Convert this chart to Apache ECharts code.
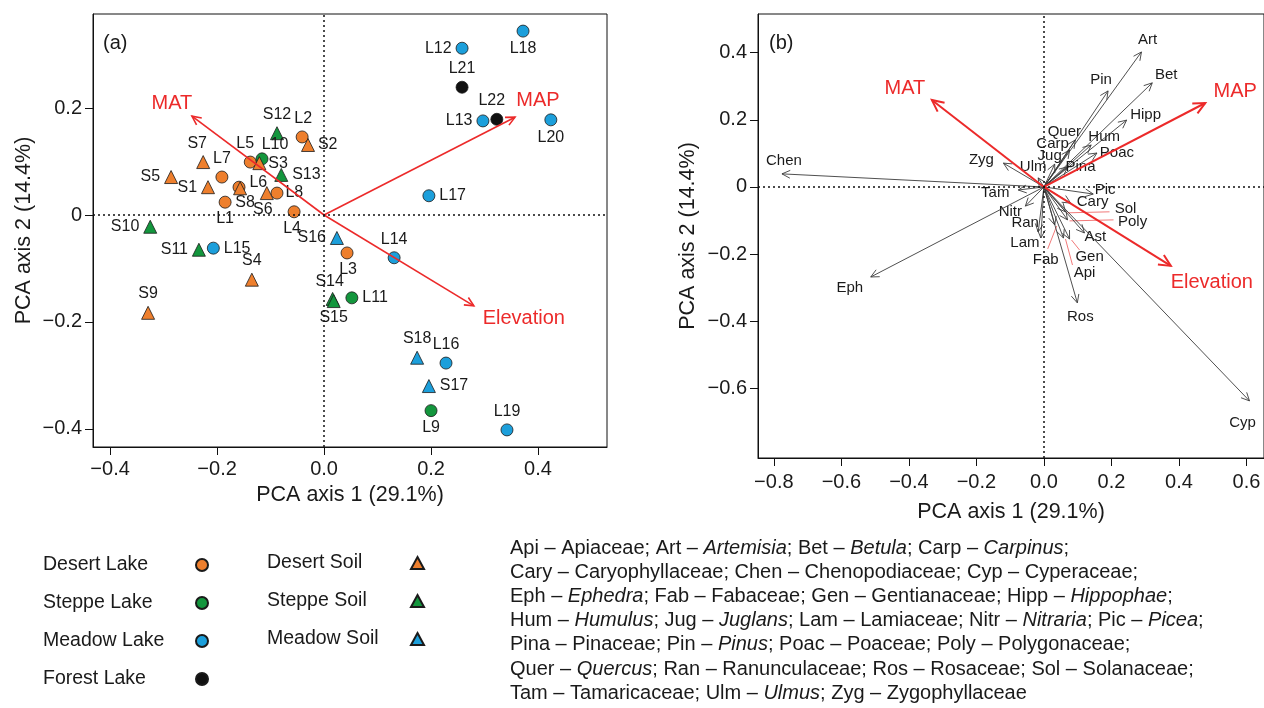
<!DOCTYPE html>
<html><head><meta charset="utf-8">
<script src="https://cdn.jsdelivr.net/npm/echarts@6/dist/echarts.min.js"></script>
<style>html,body{margin:0;padding:0;background:#fff}#c{width:1264px;height:708px}</style>
</head><body><div id="c"></div>
<script>
const FONT = '"Liberation Sans", Arial, Helvetica, sans-serif';

// ---------- Panel (a): sample scores [name, PC1, PC2] ----------
const desertLake = [['L1',-0.185,0.024],['L2',-0.041,0.146],['L3',0.043,-0.071],['L4',-0.056,0.006],
  ['L5',-0.138,0.099],['L6',-0.159,0.052],['L7',-0.191,0.071],['L8',-0.088,0.041]];
const steppeLake = [['L9',0.200,-0.366],['L10',-0.116,0.105],['L11',0.052,-0.155]];
const meadowLake = [['L12',0.258,0.312],['L13',0.297,0.176],['L14',0.131,-0.080],['L15',-0.207,-0.062],
  ['L16',0.228,-0.277],['L17',0.196,0.036],['L18',0.372,0.344],['L19',0.342,-0.402],['L20',0.424,0.178]];
const forestLake = [['L21',0.258,0.239],['L22',0.323,0.179]];
const desertSoil = [['S1',-0.217,0.052],['S2',-0.030,0.131],['S3',-0.121,0.097],['S4',-0.135,-0.121],
  ['S5',-0.286,0.071],['S6',-0.107,0.041],['S7',-0.226,0.099],['S8',-0.157,0.050],['S9',-0.329,-0.183]];
const steppeSoil = [['S10',-0.325,-0.022],['S11',-0.234,-0.065],['S12',-0.088,0.153],['S13',-0.080,0.075],
  ['S14',0.016,-0.157],['S15',0.018,-0.161]];
const meadowSoil = [['S16',0.024,-0.043],['S17',0.196,-0.320],['S18',0.174,-0.267]];

// environmental vectors
const envNames = ['MAT','MAP','Elevation'];
const envA_PC1 = [-0.247, 0.357, 0.280];
const envA_PC2 = [0.185, 0.183, -0.170];
const envB_PC1 = [-0.332, 0.478, 0.376];
const envB_PC2 = [0.259, 0.250, -0.235];

// ---------- Panel (b): taxa loadings ----------
const taxaNames = ['Art','Bet','Pin','Hipp','Hum','Quer','Carp','Jug','Poac','Pina','Ulm','Zyg','Chen','Tam','Nitr',
  'Ran','Lam','Fab','Pic','Cary','Sol','Poly','Ast','Gen','Api','Ros','Eph','Cyp'];
const taxaPC1 = [0.289,0.321,0.190,0.245,0.140,0.093,0.076,0.032,0.157,0.070,-0.017,-0.120,-0.776,-0.076,-0.055,
  -0.017,-0.009,0.032,0.146,0.079,0.064,0.070,0.120,0.076,0.058,0.099,-0.513,0.609];
const taxaPC2 = [0.402,0.310,0.286,0.199,0.125,0.140,0.110,0.068,0.101,0.060,0.027,0.071,0.039,-0.009,-0.057,
  -0.134,-0.152,-0.113,-0.021,-0.048,-0.074,-0.098,-0.137,-0.155,-0.152,-0.345,-0.268,-0.637];

// ---------- ticks ----------
const xTicksA = [-0.4,-0.2,0,0.2,0.4];
const xLabelsA = ['\u22120.4','\u22120.2','0.0','0.2','0.4'];
const yTicksA = [-0.4,-0.2,0,0.2];
const yLabelsA = ['\u22120.4','\u22120.2','0','0.2'];
const xTicksB = [-0.8,-0.6,-0.4,-0.2,0,0.2,0.4,0.6];
const xLabelsB = ['\u22120.8','\u22120.6','\u22120.4','\u22120.2','0.0','0.2','0.4','0.6'];
const yTicksB = [-0.6,-0.4,-0.2,0,0.2,0.4];
const yLabelsB = ['\u22120.6','\u22120.4','\u22120.2','0','0.2','0.4'];

// ---------- layout / style (not data) ----------
const COLORS = {desert:'#EE7F2D', steppe:'#13963D', meadow:'#1C9FDB', forest:'#111111'};
const RED = '#EC2A2A';
// label placement for sample points: [position, dx, dy]
const PT_LABEL = {
  L1:['bottom',0,-2],L2:['top',1,0],L3:['bottom',1,-2],L4:['bottom',-2,-2],L5:['top',-5,0],L6:['right',0,-5],
  L7:['top',0,0],L8:['right',-2,0],S1:['left',0,0],S2:['right',-1,0],S3:['right',-2,0],S4:['top',0,0],
  S5:['left',0,0],S6:['bottom',-4,-2],S7:['top',-6,0],S8:['bottom',5,-5],S9:['top',0,0],
  L9:['bottom',0,-1],L10:['top',13,4],L11:['right',0,0],S10:['left',0,0],S11:['left',0,0],S12:['top',0,0],
  S13:['right',0,0],S14:['top',-3,2],S15:['bottom',0,-2],L12:['left',0,0],L13:['left',0,0],L14:['top',0,0],
  L15:['right',0,0],L16:['top',0,0],L17:['right',0,0],L18:['bottom',0,-1],L19:['top',0,0],L20:['bottom',0,-1],
  L21:['top',0,0],L22:['top',-5,0],S16:['left',0,0],S17:['right',0,0],S18:['top',0,0]
};
const ENV_OFF_A = {MAT:[-20,-13], MAP:[23,-17], Elevation:[50,13]};
const ENV_OFF_B = {MAT:[-27,-11], MAP:[30,-12], Elevation:[41,17]};
const TAXA_OFF = {Art:[6,-12],Bet:[14,-8],Pin:[-7,-11],Hipp:[19,-5],Hum:[13,-8],Quer:[-11,-8],Carp:[-17,-6],
  Jug:[-5,-8],Poac:[20,0],Pina:[13,0],Ulm:[-5,-11],Zyg:[-22,-3],Chen:[2,-13],Tam:[-23,3],Nitr:[-15,6],
  Ran:[-13,-9],Lam:[-16,5],Fab:[-9,35],Pic:[12,-4],Cary:[22,-1],Sol:[60,-3],Poly:[65,2],Ast:[11,4],
  Gen:[20,18],Api:[21,35],Ros:[3,14],Eph:[-21,11],Cyp:[-7,22]};
const LEADER = {Sol:[44,0],Poly:[46,0],Gen:[10,11],Api:[9,27],Fab:[-7,24]};

function pointSeries(name, arr, color, symbol) {
  return {
    type:'scatter', name, xAxisIndex:0, yAxisIndex:0, symbol, z:3,
    symbolSize: symbol === 'triangle' ? 13 : 12,
    itemStyle:{color, borderColor:'#1a1a1a', borderWidth:0.8, opacity:1},
    data: arr.map(d => {
      const lp = PT_LABEL[d[0]] || ['right',0,0];
      return {name:d[0], value:[d[1], d[2]],
        label:{show:true, position:lp[0], distance:4, offset:[lp[1], lp[2]],
          formatter:'{b}', color:'#1a1a1a', fontSize:16, fontFamily:FONT}};
    })
  };
}

function arrowSeries(gi, names, xs, ys, st) {
  return {
    type:'custom', xAxisIndex:gi, yAxisIndex:gi, z:st.z || 2, silent:true,
    data: xs.map((x,i) => [x, ys[i]]),
    encode:{x:0, y:1},
    renderItem: function(params, api) {
      const o = api.coord([0,0]);
      const p = api.coord([api.value(0), api.value(1)]);
      const nm = names[params.dataIndex];
      const ang = Math.atan2(p[1]-o[1], p[0]-o[0]);
      const L = st.head, a = Math.PI/7;
      const h1 = [p[0]-L*Math.cos(ang-a), p[1]-L*Math.sin(ang-a)];
      const h2 = [p[0]-L*Math.cos(ang+a), p[1]-L*Math.sin(ang+a)];
      const off = st.offsets[nm] || [0,0];
      const ch = [
        {type:'line', shape:{x1:o[0],y1:o[1],x2:p[0],y2:p[1]}, style:{stroke:st.color, lineWidth:st.width}},
        {type:'polyline', shape:{points:[h1,p,h2]}, style:{stroke:st.color, lineWidth:st.width, fill:null}},
        {type:'text', x:p[0]+off[0], y:p[1]+off[1],
          style:{text:nm, fill:st.textColor, fontSize:st.fontSize, fontFamily:FONT, align:'center', verticalAlign:'middle'}}
      ];
      if (st.leader && st.leader[nm]) {
        const le = st.leader[nm];
        ch.push({type:'line', shape:{x1:p[0]+2,y1:p[1]+1,x2:p[0]+le[0],y2:p[1]+le[1]}, style:{stroke:'#F27A7A', lineWidth:1}});
      }
      return {type:'group', children:ch};
    },
    markLine: st.zeroLines ? {
      silent:true, symbol:'none', label:{show:false}, animation:false,
      lineStyle:{color:'#111', type:[2,3], width:1.5},
      data:[{xAxis:0},{yAxis:0}]
    } : undefined
  };
}

function fmt(ticks, labels) {
  return v => { const i = ticks.findIndex(t => Math.abs(t - v) < 1e-9); return i >= 0 ? labels[i] : ''; };
}
function axisCommon(ticks, labels, margin) {
  return {
    type:'value', splitLine:{show:false},
    axisLine:{show:true, onZero:false, lineStyle:{color:'#111', width:1}},
    axisTick:{show:true, inside:false, length:8, customValues:ticks, lineStyle:{color:'#111', width:1}},
    axisLabel:{customValues:ticks, formatter:fmt(ticks, labels), color:'#1a1a1a', fontSize:20, fontFamily:FONT, margin},
    nameTextStyle:{color:'#1a1a1a', fontSize:21.5, fontFamily:FONT},
    nameLocation:'middle'
  };
}

const legendRich = w => ({a:{width:w, align:'left', fontSize:19.5, fontFamily:FONT, color:'#1a1a1a'}});

const option = {
  animation:false,
  backgroundColor:'#ffffff',
  grid:[
    {left:93, top:14, width:514, height:433, show:true, borderColor:'#111', borderWidth:1, backgroundColor:'transparent'},
    {left:758, top:14, width:514, height:444, show:true, borderColor:'#111', borderWidth:1, backgroundColor:'transparent'}
  ],
  xAxis:[
    Object.assign(axisCommon(xTicksA, xLabelsA, 12), {gridIndex:0, min:-0.432, max:0.529, name:'PCA axis 1 (29.1%)', nameGap:35}),
    Object.assign(axisCommon(xTicksB, xLabelsB, 14), {gridIndex:1, min:-0.847, max:0.652, name:'PCA axis 1 (29.1%)', nameGap:43}),
  ],
  yAxis:[
    Object.assign(axisCommon(yTicksA, yLabelsA, 11), {gridIndex:0, min:-0.434, max:0.376, name:'PCA axis 2 (14.4%)', nameGap:58}),
    Object.assign(axisCommon(yTicksB, yLabelsB, 11), {gridIndex:1, min:-0.807, max:0.515, name:'PCA axis 2 (14.4%)', nameGap:59})
  ],
  legend:[
    {data:['Desert Lake','Steppe Lake','Meadow Lake','Forest Lake'], orient:'vertical', left:38, top:550,
      align:'right', itemGap:18, itemWidth:12, itemHeight:12, selectedMode:false, icon:'circle',
      formatter:'{a|{name}}', textStyle:{rich:legendRich(148)}},
    {data:['Desert Soil','Steppe Soil','Meadow Soil'], orient:'vertical', left:262, top:548,
      align:'right', itemGap:18, itemWidth:13, itemHeight:12, selectedMode:false, icon:'triangle',
      formatter:'{a|{name}}', textStyle:{rich:legendRich(139)}}
  ],
  graphic:[
    {type:'text', left:103, top:33, style:{text:'(a)', fontSize:20, fontFamily:FONT, fill:'#1a1a1a'}},
    {type:'text', left:769, top:33, style:{text:'(b)', fontSize:20, fontFamily:FONT, fill:'#1a1a1a'}},
    {type:'text', left:510, top:536, style:{
      text:[
        'Api \u2013 Apiaceae; Art \u2013 {i|Artemisia}; Bet \u2013 {i|Betula}; Carp \u2013 {i|Carpinus};',
        'Cary \u2013 Caryophyllaceae; Chen \u2013 Chenopodiaceae; Cyp \u2013 Cyperaceae;',
        'Eph \u2013 {i|Ephedra}; Fab \u2013 Fabaceae; Gen \u2013 Gentianaceae; Hipp \u2013 {i|Hippophae};',
        'Hum \u2013 {i|Humulus}; Jug \u2013 {i|Juglans}; Lam \u2013 Lamiaceae; Nitr \u2013 {i|Nitraria}; Pic \u2013 {i|Picea};',
        'Pina \u2013 Pinaceae; Pin \u2013 {i|Pinus}; Poac \u2013 Poaceae; Poly \u2013 Polygonaceae;',
        'Quer \u2013 {i|Quercus}; Ran \u2013 Ranunculaceae; Ros \u2013 Rosaceae; Sol \u2013 Solanaceae;',
        'Tam \u2013 Tamaricaceae; Ulm \u2013 {i|Ulmus}; Zyg \u2013 Zygophyllaceae'
      ].join('\n'),
      fontSize:20, fontFamily:FONT, fill:'#1a1a1a', lineHeight:24.2,
      rich:{i:{fontStyle:'italic', fontSize:20, fontFamily:FONT, fill:'#1a1a1a', lineHeight:24.2}}
    }}
  ],
  series:[
    arrowSeries(0, envNames, envA_PC1, envA_PC2, {color:RED, width:1.6, head:10, textColor:RED, fontSize:20, offsets:ENV_OFF_A, zeroLines:true, z:4}),
    pointSeries('Desert Lake', desertLake, COLORS.desert, 'circle'),
    pointSeries('Steppe Lake', steppeLake, COLORS.steppe, 'circle'),
    pointSeries('Meadow Lake', meadowLake, COLORS.meadow, 'circle'),
    pointSeries('Forest Lake', forestLake, COLORS.forest, 'circle'),
    pointSeries('Desert Soil', desertSoil, COLORS.desert, 'triangle'),
    pointSeries('Steppe Soil', steppeSoil, COLORS.steppe, 'triangle'),
    pointSeries('Meadow Soil', meadowSoil, COLORS.meadow, 'triangle'),
    arrowSeries(1, taxaNames, taxaPC1, taxaPC2, {color:'#3b3b3b', width:0.9, head:9, textColor:'#1a1a1a', fontSize:15, offsets:TAXA_OFF, leader:LEADER, zeroLines:true, z:2}),
    arrowSeries(1, envNames, envB_PC1, envB_PC2, {color:RED, width:2, head:13, textColor:RED, fontSize:20, offsets:ENV_OFF_B, z:3})
  ]
};
const chart = echarts.init(document.getElementById('c'), null, {renderer:'canvas'});
chart.setOption(option);
</script></body></html>
